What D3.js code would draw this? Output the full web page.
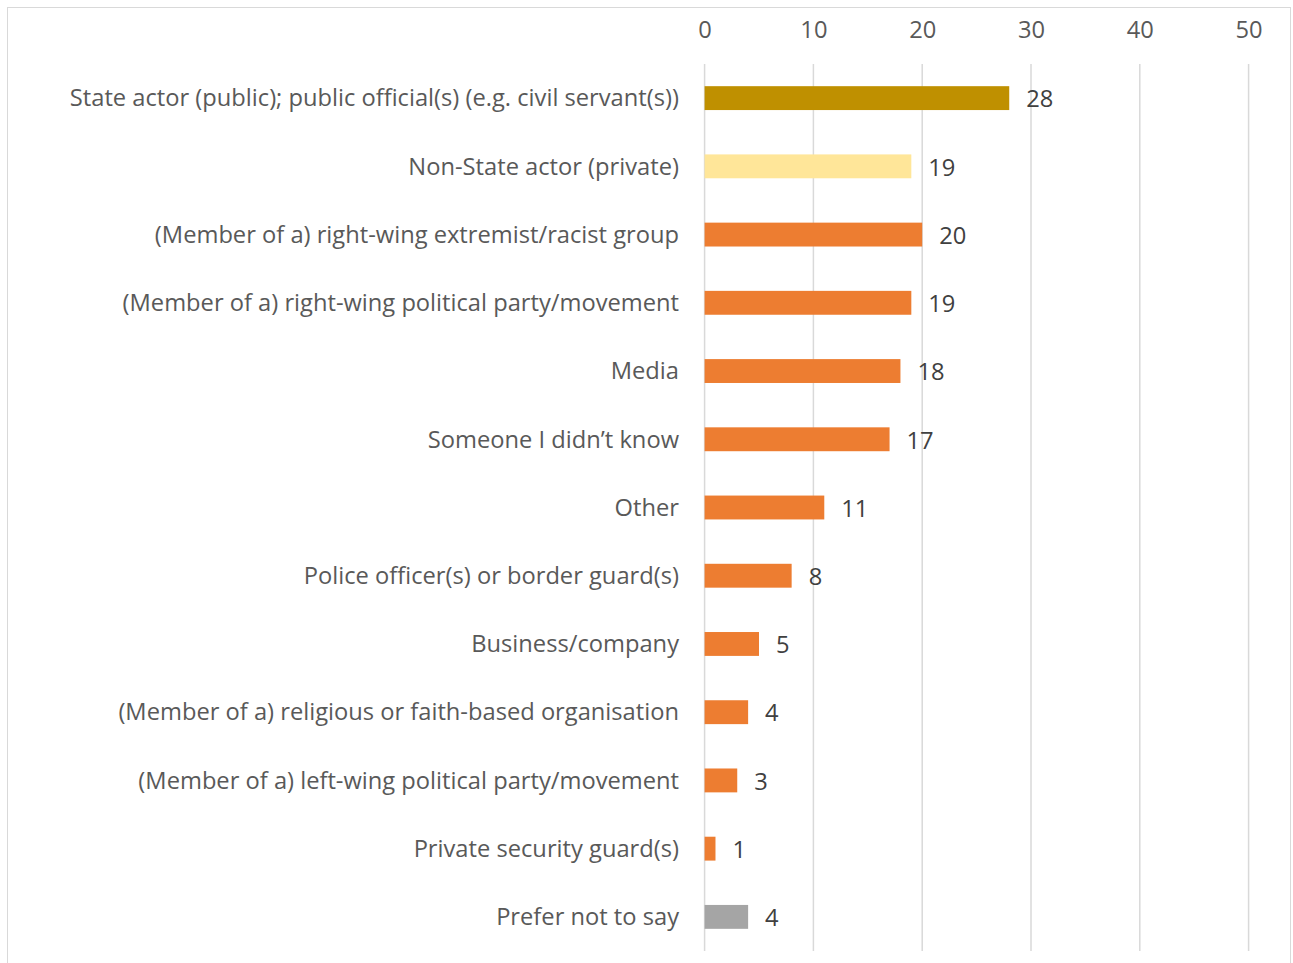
<!DOCTYPE html>
<html>
<head>
<meta charset="utf-8">
<script src="https://cdn.jsdelivr.net/npm/d3@7"></script>
<style>
  html, body { margin: 0; padding: 0; background: #fff; }
  svg { display: block; }
  text { font-family: "Open Sans", Lato, sans-serif; }
</style>
</head>
<body>
<svg id="chart" width="1293" height="963"></svg>
<script>
// Perpetrators reported, share of respondents (%)
const categories = [
  "State actor (public); public official(s) (e.g. civil servant(s))",
  "Non-State actor (private)",
  "(Member of a) right-wing extremist/racist group",
  "(Member of a) right-wing political party/movement",
  "Media",
  "Someone I didn\u2019t know",
  "Other",
  "Police officer(s) or border guard(s)",
  "Business/company",
  "(Member of a) religious or faith-based organisation",
  "(Member of a) left-wing political party/movement",
  "Private security guard(s)",
  "Prefer not to say"
];
const values = [28, 19, 20, 19, 18, 17, 11, 8, 5, 4, 3, 1, 4];
const barColors = ["#BF9000", "#FFE699", "#ED7D31", "#ED7D31", "#ED7D31", "#ED7D31",
  "#ED7D31", "#ED7D31", "#ED7D31", "#ED7D31", "#ED7D31", "#ED7D31", "#A5A5A5"];
const tickValues = [0, 10, 20, 30, 40, 50];

const svg = d3.select("#chart");
const FONT = "23.7px";

// outer chart frame
svg.append("rect")
  .attr("x", 7.5).attr("y", 7.5)
  .attr("width", 1283).attr("height", 980)
  .attr("fill", "none").attr("stroke", "#D9D9D9").attr("stroke-width", 1);

const x = d3.scaleLinear().domain([0, 50]).range([704.6, 1248.6]);
const y = d3.scaleBand().domain(categories).range([64, 951])
  .paddingInner(0.65).paddingOuter(0.325);

// vertical gridlines
svg.append("g")
  .selectAll("line")
  .data(tickValues)
  .join("line")
  .attr("x1", d => x(d)).attr("x2", d => x(d))
  .attr("y1", 64).attr("y2", 951)
  .attr("stroke", "#D9D9D9").attr("stroke-width", 1.5);

// top value axis
const xAxis = svg.append("g")
  .attr("transform", "translate(0,38)")
  .call(d3.axisTop(x).tickValues(tickValues).tickSize(0).tickPadding(0));
xAxis.select(".domain").remove();
xAxis.selectAll("text")
  .attr("fill", "#595959")
  .style("font-size", FONT)
  .style("font-family", "'Open Sans', Lato, sans-serif");

// bars
svg.append("g")
  .selectAll("rect")
  .data(categories)
  .join("rect")
  .attr("x", x(0))
  .attr("y", d => y(d))
  .attr("width", (d, i) => x(values[i]) - x(0))
  .attr("height", y.bandwidth())
  .attr("fill", (d, i) => barColors[i]);

// category labels
svg.append("g")
  .selectAll("text")
  .data(categories)
  .join("text")
  .attr("x", 679)
  .attr("y", d => y(d) + y.bandwidth() / 2)
  .attr("dy", "0.35em")
  .attr("text-anchor", "end")
  .attr("fill", "#595959")
  .style("font-size", FONT)
  .text(d => d);

// value labels
svg.append("g")
  .selectAll("text")
  .data(categories)
  .join("text")
  .attr("x", (d, i) => x(values[i]) + 17)
  .attr("y", d => y(d) + y.bandwidth() / 2 + 1)
  .attr("dy", "0.35em")
  .attr("fill", "#404040")
  .style("font-size", FONT)
  .text((d, i) => values[i]);
</script>
</body>
</html>
